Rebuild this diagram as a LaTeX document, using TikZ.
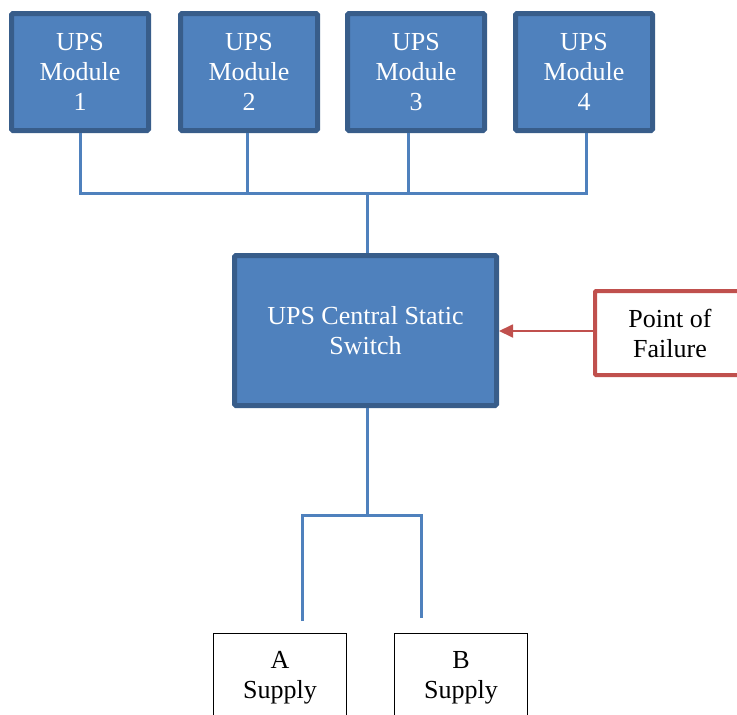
\documentclass[tikz,border=0pt]{standalone}
\usepackage{fontspec}
\setmainfont{Liberation Serif}
\usetikzlibrary{arrows.meta}
\definecolor{upsfill}{HTML}{4F81BD}
\definecolor{upsedge}{HTML}{385D8A}
\definecolor{failred}{HTML}{C0504D}
\tikzset{
  modbox/.style={draw=upsedge, fill=upsfill, line width=5pt, rounded corners=1.5pt,
    text=white, align=center, font=\fontsize{26}{30}\selectfont, inner sep=0pt},
  failbox/.style={draw=failred, fill=white, line width=4pt, rounded corners=1pt,
    align=center, font=\fontsize{26}{30}\selectfont, inner sep=0pt,
    minimum width=150pt, minimum height=84pt},
  supbox/.style={draw=black, fill=white, line width=1pt, align=center,
    font=\fontsize{26}{30}\selectfont, inner xsep=0pt, inner ysep=18pt,
    minimum width=133pt, anchor=north},
  wire/.style={draw=upsfill, line width=3pt},
  failarrow/.style={draw=failred, line width=1.8pt, -{Triangle[length=14pt,width=13pt]}}
}
\begin{document}
\begin{tikzpicture}[x=1pt, y=-1pt]
\useasboundingbox (0,0) rectangle (737,715);
\clip (0,0) rectangle (737,715);
% UPS modules
\node[modbox, minimum width=137pt, minimum height=117pt] (m1) at (80,72) {UPS\\Module\\1};
\node[modbox, minimum width=137pt, minimum height=117pt] (m2) at (249,72) {UPS\\Module\\2};
\node[modbox, minimum width=137pt, minimum height=117pt] (m3) at (416,72) {UPS\\Module\\3};
\node[modbox, minimum width=137pt, minimum height=117pt] (m4) at (584,72) {UPS\\Module\\4};
% central switch
\node[modbox, minimum width=262pt, minimum height=150pt] (sw) at (365.5,330.5) {UPS Central Static\\Switch};
% point of failure
\node[failbox] (pof) at (670,333) {Point of\\Failure};
% supplies
\node[supbox] (A) at (280,633) {A\\Supply};
\node[supbox] (B) at (461,633) {B\\Supply};
% bus coordinates
\coordinate (b1) at (80,193);
\coordinate (b2) at (247,193);
\coordinate (b3) at (408,193);
\coordinate (b4) at (586,193);
\coordinate (bc) at (367,193);
\coordinate (lc) at (367,515);
\coordinate (la) at (302,515);
\coordinate (lb) at (421,515);
\coordinate (ea) at (302,621);
\coordinate (eb) at (421,618);
% upper bus
\draw[wire] (m1.south) -- (b1) -- (b4) -- (m4.south -| b4);
\draw[wire] (m2.south -| b2) -- (b2);
\draw[wire] (m3.south -| b3) -- (b3);
\draw[wire] (bc) -- (sw.north -| bc);
% lower feed
\draw[wire] (sw.south -| lc) -- (lc);
\draw[wire] (ea) -- (la) -- (lb) -- (eb);
% failure arrow
\draw[failarrow] (pof.west |- 0,331) -- (sw.east |- 0,331);
\end{tikzpicture}
\end{document}
